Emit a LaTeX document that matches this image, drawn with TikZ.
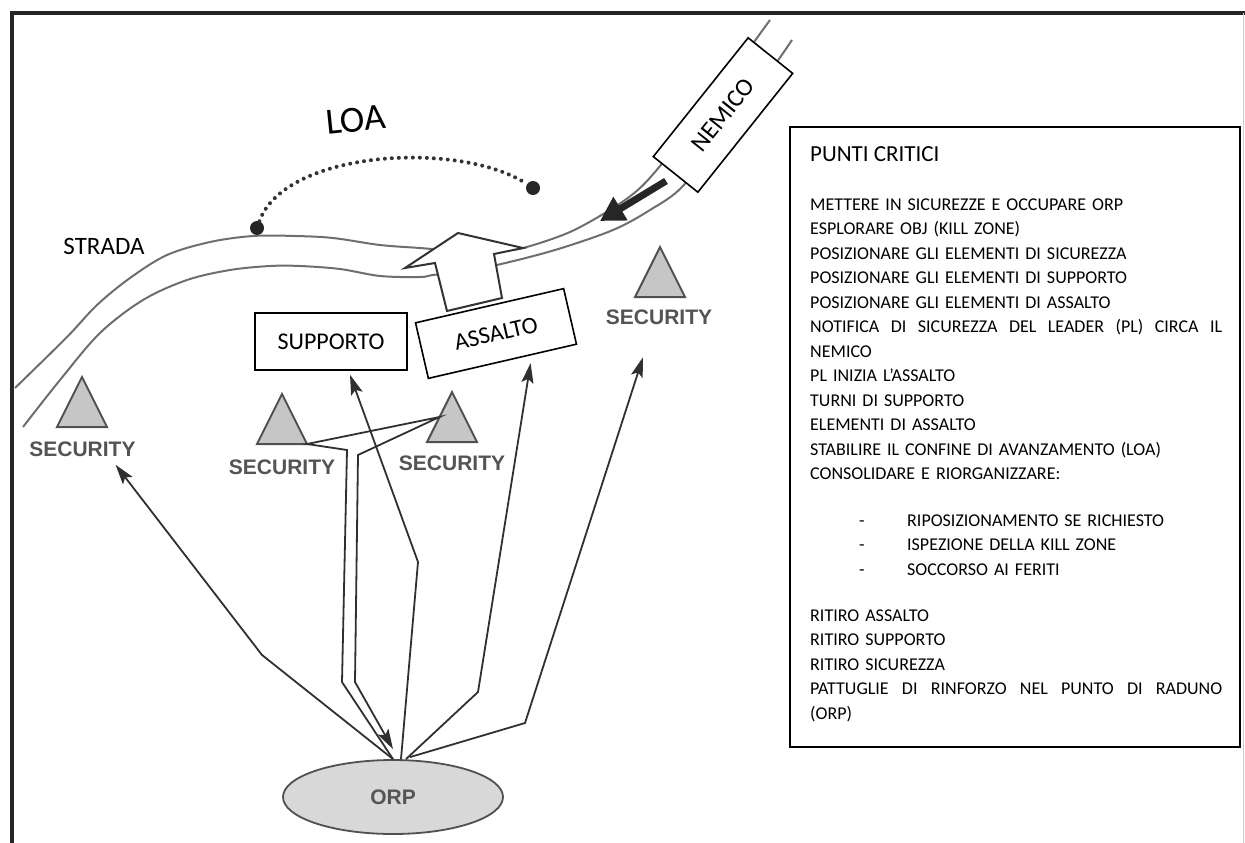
\documentclass[tikz,border=0pt]{standalone}
\usepackage{fontspec}
\setmainfont{Carlito}
\newfontfamily\secfont{Liberation Sans}
\usetikzlibrary{arrows.meta,shapes.geometric,calc}
\definecolor{roadgray}{HTML}{6E6E6E}
\definecolor{linegray}{HTML}{303030}
\definecolor{trifill}{HTML}{C6C6C6}
\definecolor{triedge}{HTML}{505050}
\definecolor{labgray}{HTML}{545454}
\definecolor{orpfill}{HTML}{D8D8D8}

\begin{document}
\begin{tikzpicture}[x=1pt,y=-1pt,
  road/.style={draw=roadgray, line width=2pt},
  conn/.style={draw=linegray, line width=1.8pt, line join=miter},
  tip/.style={-{Stealth[length=20pt,width=12pt,inset=4pt]}},
  tagbox/.style={draw=black, line width=1.6pt, fill=white, minimum width=152pt,
    minimum height=57pt, inner sep=0pt, font=\fontsize{24}{28}\selectfont},
  seclab/.style={font=\secfont\bfseries\fontsize{21}{21}\selectfont, text=labgray,
    inner sep=0pt, text height=15pt, text depth=0pt},
  tri/.style={fill=trifill, draw=triedge, line width=2pt, line join=miter},
  loadot/.style={circle, fill=black!85, inner sep=0pt, minimum size=14pt},
  loaline/.style={draw=black!80, line width=4pt, line cap=round,
    dash pattern=on 0pt off 7pt},
]
\useasboundingbox (0,0) rectangle (1245,843);

% outer frame
\draw[line width=4pt, draw=black!85] (12,843) -- (12,13) -- (1245,13);
\draw[line width=1pt, draw=black!20] (1243,13) -- (1243,843);

% the road (two edges)
\draw[road] plot[smooth, tension=0.55] coordinates {
  (15,388) (67,337) (97,305) (130,278) (167,255) (210,242) (253,236) (295,236)
  (333,238) (380,245) (420,248) (460,251) (500,250) (523,248) (570,232)
  (613,208) (640,188) (665,160) (700,115) (735,68) (770,20)};
\draw[road] plot[smooth, tension=0.55] coordinates {
  (23,427) (60,380) (100,333) (143,300) (187,280) (230,270) (270,266) (300,266)
  (340,269) (380,276) (420,277) (433,275) (470,270) (497,265) (555,250)
  (613,230) (650,210) (682,187) (720,138) (760,86) (792,40)};

% line of advance
\node[loadot] (loa1) at (257,228) {};
\node[loadot] (loa2) at (533,188) {};
\draw[loaline] (loa1) .. controls (285,150) and (460,140) .. (loa2);
\node[font=\fontsize{37}{40}\selectfont, rotate=6, inner sep=0pt] (loa) at (356,120) {LOA};
\node[font=\fontsize{25}{28}\selectfont, inner sep=0pt] (strada) at (104,246) {STRADA};

% enemy movement along the road
\draw[line width=7pt, draw=black!85, -{Triangle[length=24pt,width=26pt]}] (666,181) -- (600,221);

% assault direction arrow
\draw[draw=black!80, line width=2pt, fill=white, line join=miter]
  (458,233) -- (523,248) -- (494,254) -- (502,298) -- (447,311) -- (435,263) -- (405,268) -- cycle;

% element boxes
\node[tagbox, rotate=51.4, font=\fontsize{25}{28}\selectfont] (nem) at (723,115) {NEMICO};
\node[tagbox, rotate=13] (ass) at (496,333.5) {ASSALTO};
\node[tagbox] (sup) at (331,341.5) {SUPPORTO};

% security positions
\foreach \n/\x/\y in {1/82/427,2/282/444,3/452/442,4/660/297}{
  \coordinate (tri\n-L) at (\x-25,\y);
  \coordinate (tri\n-A) at (\x,\y-50);
  \coordinate (tri\n-R) at (\x+25,\y);
  \draw[tri] (tri\n-L) -- (tri\n-A) -- (tri\n-R) -- cycle;
}
\node[seclab] (sec1) at (82.5,449) {SECURITY};
\node[seclab] (sec2) at (282,467) {SECURITY};
\node[seclab] (sec3) at (452,463) {SECURITY};
\node[seclab] (sec4) at (659,317) {SECURITY};

% objective rally point
\node[ellipse, draw=triedge, line width=1.8pt, fill=orpfill, minimum width=220pt,
  minimum height=74pt, inner sep=0pt, font=\secfont\bfseries\fontsize{21}{21}\selectfont,
  text=labgray] (orp) at (393,797) {ORP};

% routes from the ORP
\coordinate (b1) at (262,655);
\coordinate (b2) at (418,562);
\coordinate (b4) at (478,692);
\coordinate (b5) at (525,723);
\coordinate (r1) at (342,682);
\coordinate (r2) at (347,450);
\coordinate (r3) at (358,455);
\coordinate (r4) at (355,682);

\draw[conn, tip] (orp.north) -- (b1) -- ([xshift=33pt,yshift=-8pt]sec1.south);
\draw[conn, tip] ([xshift=8pt]orp.north) -- (b2) -- ([xshift=19pt,yshift=-4pt]sup.south);
\draw[conn, tip] (orp.north) -- (r1) -- (r2) -- (tri2-R) -- ($(tri3-L)!0.5!(tri3-A)$)
  -- (r3) -- (r4) -- ([yshift=10pt]orp.north);
\draw[conn, tip] ([xshift=13pt]orp.north) -- (b4) -- ([xshift=28pt,yshift=-1pt]ass.south);
\draw[conn, tip] ([xshift=17pt,yshift=2pt]orp.north) -- (b5) -- ([xshift=-16pt,yshift=-32.5pt]sec4.south);

% critical points panel
\node[draw=black, line width=2.2pt, minimum width=450pt, minimum height=620pt,
  inner sep=0pt] (crit) at (1015,437) {};
\node[anchor=base west, inner sep=0pt, font=\fontsize{23}{28}\selectfont]
  (crittitle) at (810,161) {PUNTI CRITICI};
\node[anchor=base west, inner sep=0pt, text width=412pt, align=left,
  font=\fontsize{18}{24.5}\selectfont] (critlist) at (810,210) {%
METTERE IN SICUREZZE E OCCUPARE ORP\\
ESPLORARE OBJ (KILL ZONE)\\
POSIZIONARE GLI ELEMENTI DI SICUREZZA\\
POSIZIONARE GLI ELEMENTI DI SUPPORTO\\
POSIZIONARE GLI ELEMENTI DI ASSALTO\\
\leavevmode\hbox to 412pt{NOTIFICA\hfill DI\hfill SICUREZZA\hfill DEL\hfill LEADER\hfill (PL)\hfill CIRCA\hfill IL}\\
NEMICO\\
PL INIZIA L’ASSALTO\\
TURNI DI SUPPORTO\\
ELEMENTI DI ASSALTO\\
STABILIRE IL CONFINE DI AVANZAMENTO (LOA)\\
CONSOLIDARE E RIORGANIZZARE:\\[22pt]
\makebox[97pt][l]{\hspace*{49pt}-}RIPOSIZIONAMENTO SE RICHIESTO\\
\makebox[97pt][l]{\hspace*{49pt}-}ISPEZIONE DELLA KILL ZONE\\
\makebox[97pt][l]{\hspace*{49pt}-}SOCCORSO AI FERITI\\[21.5pt]
RITIRO ASSALTO\\
RITIRO SUPPORTO\\
RITIRO SICUREZZA\\
\leavevmode\hbox to 412pt{PATTUGLIE\hfill DI\hfill RINFORZO\hfill NEL\hfill PUNTO\hfill DI\hfill RADUNO}\\
(ORP)};
\end{tikzpicture}
\end{document}
